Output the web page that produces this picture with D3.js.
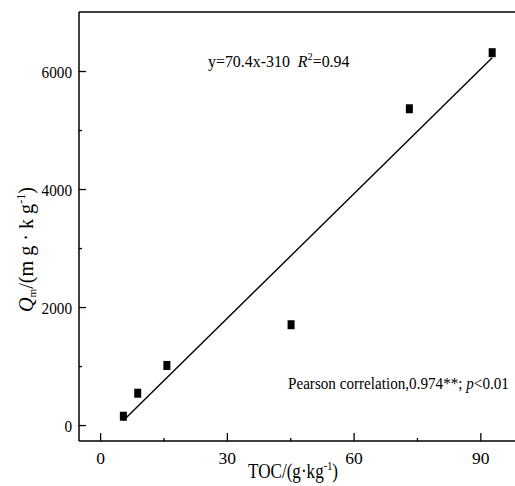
<!DOCTYPE html>
<html>
<head>
<meta charset="utf-8">
<script src="https://cdn.jsdelivr.net/npm/d3@7"></script>
<style>
  html, body { margin: 0; padding: 0; background: #fff; }
  svg { display: block; }
  text { font-family: "Liberation Serif", "Times New Roman", serif; fill: #000; }
</style>
</head>
<body>
<div id="chart"></div>
<script>
// ---- data ----
const tocValues = [5.5, 8.9, 15.8, 45.2, 73.2, 92.8];
const qmValues  = [150, 540, 1010, 1700, 5360, 6310];
const xTicks = [0, 30, 60, 90];
const yTicks = [0, 2000, 4000, 6000];
const xMinorTicks = [15, 45, 75];
const yMinorTicks = [1000, 3000, 5000];
const fitSlope = 70.4;
const fitIntercept = -310;
const fitRange = [5.5, 92.8];

(function () {
const W = 515, H = 486;
const svg = d3.select("#chart").append("svg").attr("width", W).attr("height", H);

const x = d3.scaleLinear().domain([-5, 100]).range([79, 522.6]);
const y = d3.scaleLinear().domain([-270, 7000]).range([441, 12]);

const pLeft = x.range()[0], pBottom = y.range()[0], pTop = y.range()[1];

// place a text so that its width equals target, starting at (x0,y0), optional rotation
function fit(sel, x0, y0, target, rot) {
  const w = sel.node().getBBox().width;
  const s = target / w;
  sel.attr("transform", `translate(${x0},${y0})${rot ? ` rotate(${rot})` : ""} scale(${s},1)`);
}

// frame: left, bottom, top lines
const frame = svg.append("g").attr("stroke", "#000").attr("stroke-width", 1.5).attr("fill", "none");
frame.append("line").attr("x1", pLeft).attr("x2", pLeft).attr("y1", pTop).attr("y2", pBottom);
frame.append("line").attr("x1", pLeft).attr("x2", W).attr("y1", pBottom).attr("y2", pBottom);
frame.append("line").attr("x1", pLeft).attr("x2", W).attr("y1", pTop).attr("y2", pTop);

// x axis (ticks inward)
const xAxis = d3.axisBottom(x).tickValues(xTicks).tickSize(-8).tickPadding(18).tickFormat(d3.format("d"));
const gx = svg.append("g").attr("transform", `translate(0,${pBottom})`).call(xAxis);
gx.select(".domain").remove();
gx.selectAll(".tick line").attr("stroke", "#000").attr("stroke-width", 1.3);
gx.selectAll(".tick text").attr("font-size", 17.5).attr("dy", "0.3em");
const xMinor = d3.axisBottom(x).tickValues(xMinorTicks).tickSize(-3).tickFormat("");
const gxm = svg.append("g").attr("transform", `translate(0,${pBottom})`).call(xMinor);
gxm.select(".domain").remove();
gxm.selectAll(".tick line").attr("stroke", "#000").attr("stroke-width", 1.3);

// y axis (ticks inward)
const yAxis = d3.axisLeft(y).tickValues(yTicks).tickSize(-7).tickPadding(7).tickFormat(d3.format("d"));
const gy = svg.append("g").attr("transform", `translate(${pLeft},0)`).call(yAxis);
gy.select(".domain").remove();
gy.selectAll(".tick line").attr("stroke", "#000").attr("stroke-width", 1.3);
gy.selectAll(".tick text").attr("font-size", 17.5).attr("x", 0).attr("dy", "0.35em")
  .attr("transform", "translate(-7,0) scale(0.87,1)");
const yMinor = d3.axisLeft(y).tickValues(yMinorTicks).tickSize(-3).tickFormat("");
const gym = svg.append("g").attr("transform", `translate(${pLeft},0)`).call(yMinor);
gym.select(".domain").remove();
gym.selectAll(".tick line").attr("stroke", "#000").attr("stroke-width", 1.3);

// fit line
const fitLine = d3.line().x(d => x(d)).y(d => y(fitSlope * d + fitIntercept));
svg.append("path").datum(fitRange).attr("d", fitLine)
  .attr("stroke", "#000").attr("stroke-width", 1.4).attr("fill", "none");

// points (squares)
const pts = tocValues.map((v, i) => ({ x: v, y: qmValues[i] }));
svg.append("g").selectAll("rect").data(pts).join("rect")
  .attr("x", d => x(d.x) - 3.5).attr("y", d => y(d.y) - 4.5)
  .attr("width", 7).attr("height", 9).attr("fill", "#000");

// equation
const eq = svg.append("text").attr("font-size", 17);
eq.append("tspan").text("y=70.4x-310\u00a0\u00a0");
eq.append("tspan").attr("font-style", "italic").text("R");
eq.append("tspan").attr("font-size", 11).attr("dy", -7).text("2");
eq.append("tspan").attr("dy", 7).text("=0.94");
fit(eq, 208, 67, 142);

// pearson
const pe = svg.append("text").attr("font-size", 17);
pe.append("tspan").text("Pearson correlation,0.974**; ");
pe.append("tspan").attr("font-style", "italic").text("p");
pe.append("tspan").text("<0.01");
fit(pe, 288, 389, 221);

// x title
const xt = svg.append("text").attr("font-size", 20);
xt.append("tspan").text("TOC/(g·kg");
xt.append("tspan").attr("font-size", 12).attr("dy", -8).text("-1");
xt.append("tspan").attr("dy", 8).text(")");
fit(xt, 248, 478, 90);

// y title
const yt = svg.append("text").attr("font-size", 20);
yt.append("tspan").attr("font-style", "italic").text("Q");
yt.append("tspan").attr("font-size", 11).attr("dy", 3).text("m");
yt.append("tspan").attr("dy", -3).text("/(m g · k g");
yt.append("tspan").attr("font-size", 12).attr("dy", -8).text("-1");
yt.append("tspan").attr("dy", 8).text(")");
fit(yt, 33, 312, 125, -90);
})();
</script>
</body>
</html>
